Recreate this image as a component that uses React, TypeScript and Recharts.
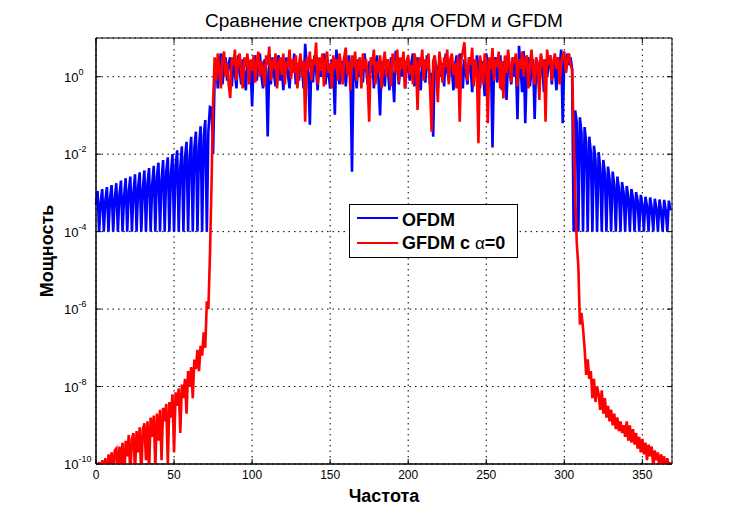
import React from 'react';
import { LineChart, Line, XAxis, YAxis, CartesianGrid, ReferenceArea } from 'recharts';

// all values are log10 of power (x = sample index 0..368)

// OFDM: sidelobes left of the band, x = 0..75
const ofdmLeftLobes = [
  -3.3, -2.95, -4, -3.25, -2.9, -4, -3.2, -2.85, -4, -3.15,
  -2.8, -4, -3.15, -2.75, -4, -3.05, -2.68, -4, -3.1, -2.62,
  -4, -2.95, -2.58, -4, -3.0, -2.52, -4, -2.85, -2.47, -4,
  -2.9, -2.42, -4, -2.75, -2.36, -4, -2.8, -2.3, -4, -2.6,
  -2.22, -4, -2.65, -2.15, -4, -2.45, -2.08, -4, -2.5, -2.0,
  -4, -2.3, -1.9, -4, -2.35, -1.8, -4, -2.1, -1.68, -4,
  -2.05, -1.55, -4, -1.85, -1.42, -4, -1.8, -1.28, -4, -1.55,
  -1.12, -4, -1.4, -0.78, -0.8, -2.0,
];

// OFDM: in-band, x = 76..305
const ofdmBand = [
  0.0, 0.45, -0.3, 0.3, 0.6, -0.2, 0.2, 0.5, -0.1, 0.35,
  0.5, -0.25, 0.4, 0.1, -0.3, 0.55, 0.2, -0.2, 0.45, 0.05,
  -0.35, 0.5, 0.15, 0.3, -0.77, 0.4, 0.55, -0.1, 0.3, 0.6,
  0.0, -0.3, 0.45, 0.2, -1.54, 0.35, -0.2, 0.5, 0.1, -0.25,
  0.4, 0.55, -0.1, 0.3, -0.35, 0.25, 0.5, 0.05, -0.3, 0.4,
  0.15, 0.6, -0.2, 0.35, -0.1, 0.5, 0.2, -0.3, 0.85, 0.3,
  0.1, -1.24, 0.45, -0.15, 0.55, 0.2, -0.35, 0.4, 0.0, 0.3,
  0.6, -0.2, 0.35, 0.1, -0.3, 0.45, 0.25, -0.98, 0.7, 0.15,
  -0.2, 0.4, 0.05, 0.5, -0.25, 0.3, 0.55, 0.1, -2.45, 0.35,
  0.2, -0.3, 0.45, 0.0, 0.35, -0.15, 0.6, 0.25, -0.2, 0.4,
  0.1, 0.5, -0.3, 0.3, 0.55, -0.1, -1.0, 0.4, 0.15, -0.25,
  0.45, 0.2, -0.35, 0.5, 0.05, -0.66, 0.67, 0.3, -0.2, 0.4,
  0.0, 0.55, -0.3, 0.25, 0.45, -0.1, 0.35, 0.6, -0.25, 0.2,
  0.5, 0.05, -0.35, 0.4, 0.2, -0.15, 0.55, 0.3, -0.2, 0.1,
  -1.55, 0.45, 0.25, -0.3, 0.5, 0.0, 0.35, -0.25, 0.6, 0.15,
  -0.1, 0.4, 0.2, -0.35, 0.3, 0.55, -0.05, 0.6, 0.25, -0.3,
  0.45, 0.1, -0.2, 0.5, 0.3, -0.4, 0.35, 0.0, 0.55, 0.2,
  -0.3, 0.4, 0.15, -0.5, 0.6, 0.25, -0.2, 0.45, -1.83, 0.3,
  0.5, -0.15, 0.2, 0.55, -0.35, 0.4, 0.1, -0.6, 0.45, 0.25,
  -0.2, 0.5, 0.0, 0.35, -1.1, 0.8, 0.2, -0.4, 0.66, -1.2,
  0.3, 0.5, -0.25, 0.2, 0.45, -1.09, 0.35, 0.1, -0.3, 0.55,
  0.2, -0.4, 0.45, 0.0, 0.3, 0.55, -0.2, 0.4, 0.15, -0.35,
  0.5, 0.25, 0.7, -1.2, 0.45, 0.1, 0.6, 0.3, 0.5, 0.2,
];

// OFDM: sidelobes right of the band, x = 306..368
const ofdmRightLobes = [
  -4, -0.87, -1.2, -4, -1.05, -1.45, -4, -1.3, -1.7, -4,
  -1.55, -1.95, -4, -1.78, -2.15, -4, -1.95, -2.35, -4, -2.15,
  -2.5, -4, -2.32, -2.65, -4, -2.45, -2.8, -4, -2.58, -2.9,
  -4, -2.72, -3.0, -4, -2.82, -3.1, -4, -2.9, -3.15, -4,
  -2.98, -3.2, -4, -3.05, -3.3, -4, -3.1, -3.35, -4, -3.12,
  -3.4, -4, -3.15, -3.4, -4, -3.17, -3.45, -4, -3.18, -3.45,
  -4, -3.2, -3.45,
];

// GFDM: tail left of the band, x = 0..75
const gfdmLeftTail = [
  -10.4, -10.2, -9.95, -10.5, -9.9, -10.3, -9.85, -10.6, -9.75, -10.1,
  -9.7, -10.4, -9.65, -9.6, -10.3, -9.55, -10.0, -9.45, -10.5, -9.4,
  -9.8, -9.25, -10.3, -9.35, -9.2, -10.2, -9.15, -9.7, -9.05, -10.4,
  -9.1, -8.95, -9.9, -8.9, -10.2, -8.8, -9.3, -8.75, -10.1, -8.7,
  -9.4, -8.6, -9.9, -8.55, -8.9, -8.45, -10.0, -8.4, -8.8, -8.2,
  -9.7, -8.15, -8.5, -8.05, -9.2, -7.95, -8.3, -7.8, -8.7, -7.6,
  -8.0, -7.5, -8.3, -7.3, -7.55, -7.05, -7.6, -6.95, -7.2, -6.6,
  -7.0, -5.8, -6.0, -4.6, -2.8, -0.7,
];

// GFDM: in-band, x = 76..305
const gfdmBand = [
  0.5, -0.1, 0.6, 0.2, -0.3, 0.45, 0.65, 0.0, 0.35, -0.2,
  -0.55, 0.5, 0.3, 0.7, -0.1, 0.4, 0.6, 0.1, -0.3, 0.5,
  0.25, 0.6, -0.2, 0.45, 0.15, 0.55, -0.15, 0.35, 0.65, 0.0,
  0.4, 0.2, -0.25, 0.55, 0.3, 0.78, -0.1, 0.45, 0.2, 0.6,
  -0.3, 0.35, 0.5, 0.05, 0.6, -0.2, 0.4, 0.25, 0.7, -0.05,
  0.45, 0.1, 0.55, -0.3, 0.3, 0.6, 0.0, 0.4, -1.16, 0.5,
  0.2, 0.65, -0.1, 0.45, 0.3, 0.88, -0.2, 0.5, 0.15, 0.6,
  -0.25, 0.4, 0.65, 0.1, 0.35, -0.3, 0.55, 0.2, 0.45, -0.1,
  0.6, 0.3, -0.2, 0.5, 0.75, 0.05, 0.4, -0.35, 0.55, 0.25,
  0.65, -0.1, 0.35, 0.5, -0.3, 0.6, 0.2, 0.45, -0.05, -1.16,
  0.5, 0.3, 0.7, -0.2, 0.4, 0.1, 0.55, -0.3, 0.35, 0.65,
  0.0, 0.45, 0.25, -0.25, 0.6, 0.35, 0.1, 0.7, -0.15, 0.5,
  0.2, 0.65, -0.3, 0.4, 0.55, 0.05, 0.3, -0.2, 0.6, 0.4,
  -0.86, 0.5, 0.25, 0.7, -0.1, 0.45, 0.2, 0.6, -0.3, -1.42,
  0.4, 0.55, 0.1, -0.66, 0.65, 0.3, -0.15, 0.5, 0.25, 0.7,
  -0.2, 0.45, 0.6, 0.05, 0.35, -0.3, 0.55, -1.16, 0.4, 0.65,
  0.89, 0.2, -0.1, 0.5, 0.3, 0.75, -0.25, 0.45, 0.15, -1.72,
  0.55, 0.3, -0.2, 0.6, 0.4, -1.2, 0.5, 0.2, 0.74, -0.1,
  0.45, 0.25, 0.65, -0.3, 0.4, -0.56, 0.55, 0.1, 0.7, 0.3,
  -0.15, 0.5, 0.35, 0.6, -0.25, 0.45, 0.2, 0.65, 0.0, 0.4,
  0.55, -0.3, 0.3, 0.7, 0.15, -0.2, 0.5, 0.35, -0.6, 0.6,
  0.25, 0.45, -1.16, 0.7, 0.3, 0.55, -0.1, 0.4, 0.6, 0.2,
  0.5, -0.2, 0.35, 0.55, 0.65, 0.1, 0.45, 0.6, 0.3, 0.2,
];

// GFDM: tail right of the band, x = 306..368
const gfdmRightTail = [
  -1.5, -3.1, -4.3, -4.9, -6.4, -6.1, -6.5, -7.0, -7.7, -7.3,
  -7.8, -7.6, -8.3, -7.8, -8.4, -8.0, -8.2, -8.6, -8.1, -8.7,
  -8.3, -8.8, -8.5, -8.9, -8.6, -9.0, -8.7, -9.1, -8.8, -9.15,
  -8.9, -9.2, -9.0, -9.3, -8.9, -9.4, -9.0, -9.45, -9.1, -9.5,
  -9.2, -9.6, -9.3, -9.7, -9.35, -9.75, -9.45, -9.9, -9.5, -9.8,
  -9.55, -10.1, -9.65, -9.9, -9.7, -10.2, -9.75, -10.0, -9.8, -10.3,
  -9.85, -10.1, -9.95,
];

const xTicks = [0, 50, 100, 150, 200, 250, 300, 350];
const yTicks = [1e-10, 1e-8, 1e-6, 1e-4, 1e-2, 1];

const series = [
  { key: 'ofdm', label: 'OFDM', color: '#0000ff' },
  { key: 'gfdm', label: 'GFDM с α=0', color: '#ff0000' },
];

const ofdmExp = [...ofdmLeftLobes, ...ofdmBand, ...ofdmRightLobes];
const gfdmExp = [...gfdmLeftTail, ...gfdmBand, ...gfdmRightTail];

const data = ofdmExp.map((e, i) => ({
  freq: i,
  ofdm: Math.pow(10, e),
  gfdm: Math.pow(10, gfdmExp[i]),
}));

const W = 741;
const H = 521;
const PLOT_W = 576;
const PLOT_H = 426;
const FONT = '"Liberation Sans", Arial, Helvetica, sans-serif';

const XTick = ({ x, y, payload }: any) => (
  <g>
    <line x1={x} y1={y} x2={x} y2={y - 5} stroke="#000" />
    <line x1={x} y1={y - PLOT_H} x2={x} y2={y - PLOT_H + 5} stroke="#000" />
    <text x={x} y={y + 15} textAnchor="middle" fontSize={12} fontFamily={FONT} fill="#000">
      {payload.value}
    </text>
  </g>
);

const YTick = ({ x, y, payload }: any) => {
  const exp = Math.round(Math.log10(payload.value));
  return (
    <g>
      <line x1={x} y1={y} x2={x + 5} y2={y} stroke="#000" />
      <line x1={x + PLOT_W} y1={y} x2={x + PLOT_W - 5} y2={y} stroke="#000" />
      <text x={x - 32} y={y + 5} fontSize={13} fontFamily={FONT} fill="#000">
        10
        <tspan dy={-7} fontSize={9}>{exp}</tspan>
      </text>
    </g>
  );
};

export default function App() {
  return (
    <div style={{ position: 'relative', width: W, height: H, background: '#fff' }}>
      <style>{'body{margin:0}'}</style>
      <LineChart
        width={W}
        height={H}
        data={data}
        margin={{ top: 38, right: 69, left: 36, bottom: 0 }}
      >
        <CartesianGrid stroke="#000" strokeDasharray="1.5 4" />
        <XAxis
          dataKey="freq"
          type="number"
          domain={[0, 369]}
          ticks={xTicks}
          interval={0}
          height={57}
          tickSize={0}
          tickMargin={0}
          tickLine={false}
          axisLine={{ stroke: '#000' }}
          tick={<XTick />}
          label={{
            value: 'Частота',
            position: 'insideBottom',
            offset: 19,
            style: { fontFamily: FONT, fontSize: 18, fontWeight: 'bold', fill: '#000' },
          }}
        />
        <YAxis
          type="number"
          scale="log"
          domain={[1e-10, 10]}
          allowDataOverflow
          ticks={yTicks}
          interval={0}
          width={60}
          tickSize={0}
          tickMargin={0}
          tickLine={false}
          axisLine={{ stroke: '#000' }}
          tick={<YTick />}
          label={{
            value: 'Мощность',
            angle: -90,
            position: 'insideLeft',
            offset: 11,
            style: { textAnchor: 'middle', fontFamily: FONT, fontSize: 18, fontWeight: 'bold', fill: '#000' },
          }}
        />
        <ReferenceArea x1={0} x2={369} y1={1e-10} y2={10} fill="none" stroke="#000" strokeWidth={1} />
        {series.map((s) => (
          <Line
            key={s.key}
            dataKey={s.key}
            type="linear"
            stroke={s.color}
            strokeWidth={2.6}
            dot={false}
            activeDot={false}
            isAnimationActive={false}
          />
        ))}
      </LineChart>
      <svg
        width={W}
        height={H}
        style={{ position: 'absolute', left: 0, top: 0, pointerEvents: 'none' }}
      >
        <text x={384} y={27} textAnchor="middle" fontSize={19} fontFamily={FONT} fill="#000">
          Сравнение спектров для OFDM и GFDM
        </text>
        <rect x={349.5} y={204.5} width={168} height={53} fill="#fff" stroke="#000" />
        {series.map((s, i) => {
          const [before, after] = s.label.split('α');
          return (
            <g key={s.key}>
              <line x1={357} x2={398} y1={218 + i * 25} y2={218 + i * 25} stroke={s.color} strokeWidth={2} />
              <text
                x={402}
                y={225.5 + i * 23.5}
                fontSize={18}
                fontWeight="bold"
                fontFamily={FONT}
                fill="#000"
                style={{ whiteSpace: 'pre' }}
              >
                {before}
                {after !== undefined && <tspan fontWeight="normal" fontSize={17}>α</tspan>}
                {after}
              </text>
            </g>
          );
        })}
      </svg>
    </div>
  );
}
